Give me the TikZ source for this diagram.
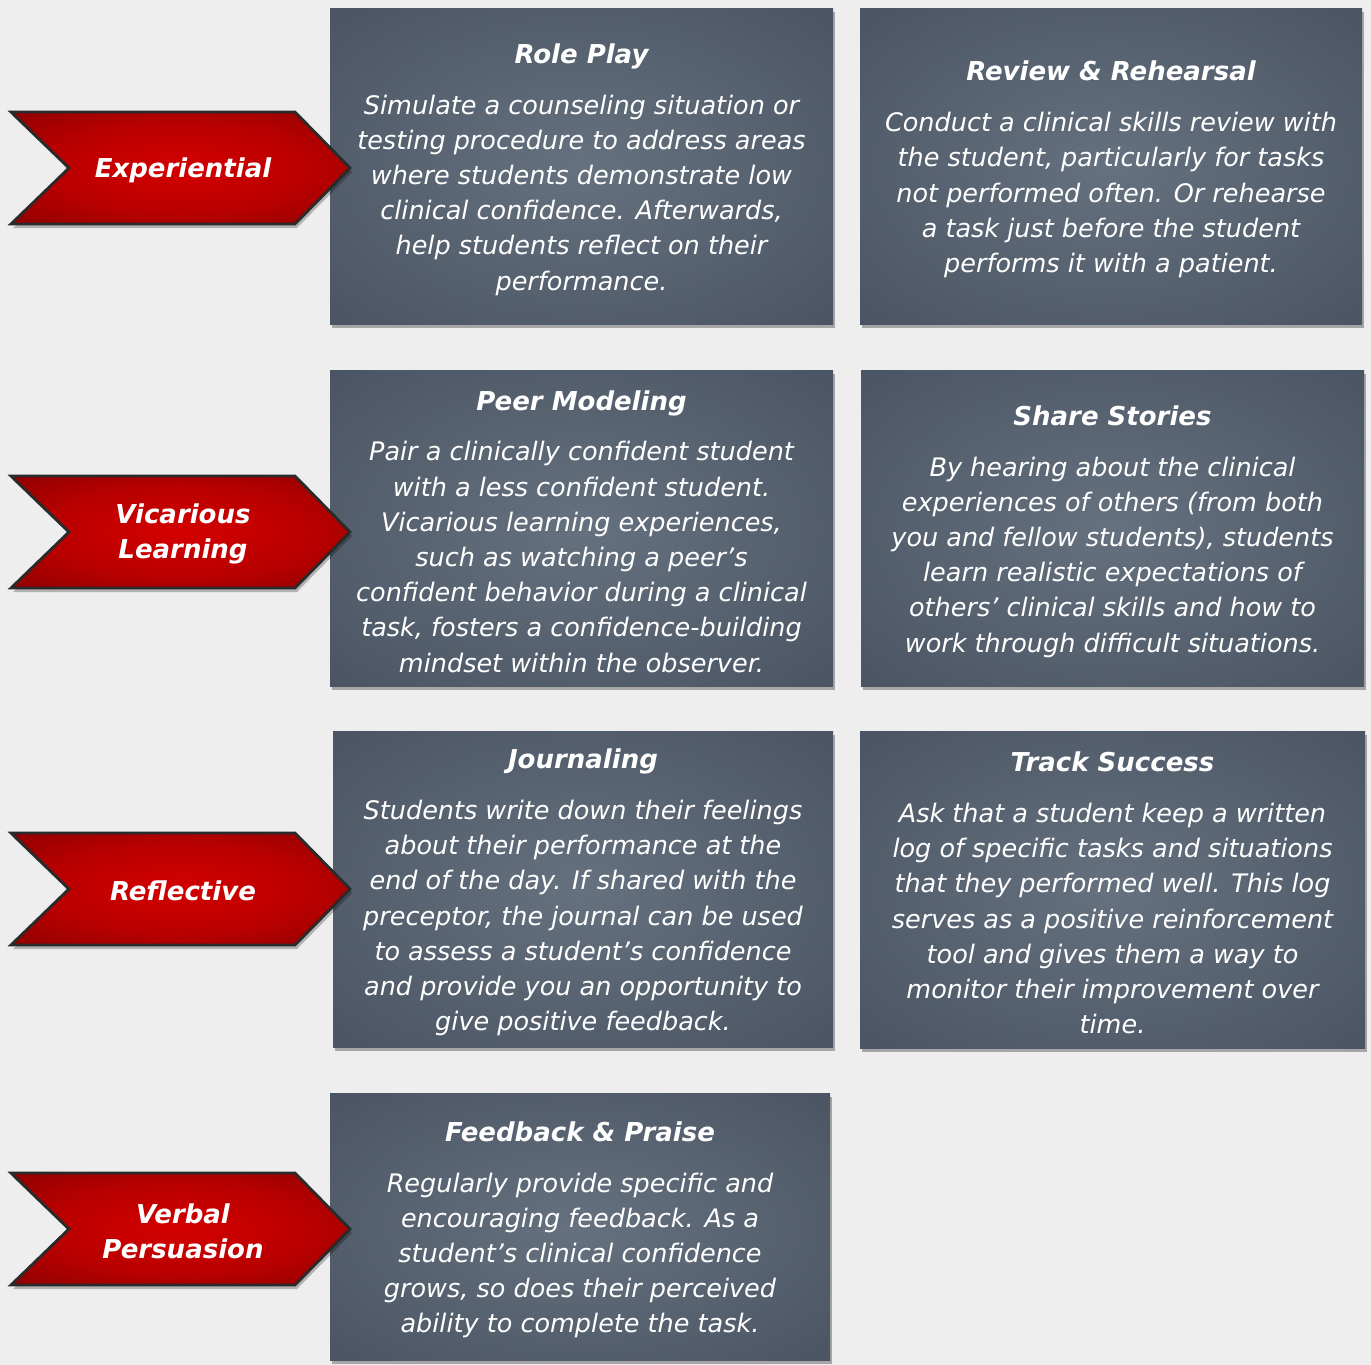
\documentclass[tikz,border=0pt]{standalone}
\usepackage{fontspec}
\setmainfont{DejaVu Sans}
\usetikzlibrary{shadows}
\definecolor{bg}{HTML}{EEEEEE}
\definecolor{boxin}{HTML}{66717F}
\definecolor{boxout}{HTML}{3D4755}
\definecolor{redin}{HTML}{D40000}
\definecolor{redmid}{HTML}{B80000}
\definecolor{redout}{HTML}{7E0000}
\definecolor{edgec}{HTML}{2A2A2A}
\pgfdeclareradialshading{cardshade}{\pgfpoint{0bp}{0bp}}{color(0bp)=(boxin); color(52bp)=(boxout); color(72bp)=(boxout)}
\pgfdeclareradialshading{chevshade}{\pgfpoint{0bp}{0bp}}{color(0bp)=(redin); color(20bp)=(redmid); color(42bp)=(redout); color(72bp)=(redout)}
\newcommand\cardbody{\fontsize{25.5}{35.2}\selectfont\itshape}
\newcommand\cardttl[1]{{\fontsize{26}{35.2}\selectfont\bfseries\itshape #1}\\[15.5pt]}
\tikzset{
  card/.style={rectangle, inner sep=0pt, shading=cardshade, draw=none,
    drop shadow={shadow xshift=1.5pt, shadow yshift=-4pt, opacity=0.3, fill=black}},
  cardtext/.style={inner sep=0pt, text=white, align=center, font=\cardbody},
  chev/.style={draw=edgec, line width=2.8pt, line join=miter, shading=chevshade,
    drop shadow={shadow xshift=2pt, shadow yshift=-4pt, opacity=0.25, fill=black}},
  chevlabel/.style={text=white, align=center, inner sep=0pt,
    font=\fontsize{26}{35}\selectfont\bfseries\itshape}
}
\begin{document}
\begin{tikzpicture}[x=1pt,y=-1pt]
\fill[bg] (0,0) rectangle (1371,1365);
\useasboundingbox (0,0) rectangle (1371,1365);

\node[card, minimum width=503pt, minimum height=316pt] (b1) at (581.5,166) {};
\node[cardtext] (t1) at ([yshift=-3.5pt]b1.center) {\cardttl{Role Play}
Simulate a counseling situation or\\
testing procedure to address areas\\
where students demonstrate low\\
clinical confidence. Afterwards,\\
help students reflect on their\\
performance.};

\node[card, minimum width=502pt, minimum height=316pt] (b2) at (1111,166) {};
\node[cardtext] (t2) at ([yshift=-3.5pt]b2.center) {\cardttl{Review \& Rehearsal}
Conduct a clinical skills review with\\
the student, particularly for tasks\\
not performed often. Or rehearse\\
a task just before the student\\
performs it with a patient.};

\node[card, minimum width=503pt, minimum height=316pt] (b3) at (581.5,528) {};
\node[cardtext] (t3) at ([yshift=-3.5pt]b3.center) {\cardttl{Peer Modeling}
Pair a clinically confident student\\
with a less confident student.\\
Vicarious learning experiences,\\
such as watching a peer’s\\
confident behavior during a clinical\\
task, fosters a confidence-building\\
mindset within the observer.};

\node[card, minimum width=503pt, minimum height=316pt] (b4) at (1112.5,528) {};
\node[cardtext] (t4) at ([yshift=-3.5pt]b4.center) {\cardttl{Share Stories}
By hearing about the clinical\\
experiences of others (from both\\
you and fellow students), students\\
learn realistic expectations of\\
others’ clinical skills and how to\\
work through difficult situations.};

\node[card, minimum width=500pt, minimum height=316pt] (b5) at (583,889) {};
\node[cardtext] (t5) at ([yshift=-3.5pt]b5.center) {\cardttl{Journaling}
Students write down their feelings\\
about their performance at the\\
end of the day. If shared with the\\
preceptor, the journal can be used\\
to assess a student’s confidence\\
and provide you an opportunity to\\
give positive feedback.};

\node[card, minimum width=505pt, minimum height=317pt] (b6) at (1112.5,889.5) {};
\node[cardtext] (t6) at ([yshift=-3.5pt]b6.center) {\cardttl{Track Success}
Ask that a student keep a written\\
log of specific tasks and situations\\
that they performed well. This log\\
serves as a positive reinforcement\\
tool and gives them a way to\\
monitor their improvement over\\
time.};

\node[card, minimum width=500pt, minimum height=267pt] (b7) at (580,1226.5) {};
\node[cardtext] (t7) at ([yshift=-3.5pt]b7.center) {\cardttl{Feedback \& Praise}
Regularly provide specific and\\
encouraging feedback. As a\\
student’s clinical confidence\\
grows, so does their perceived\\
ability to complete the task.};

\foreach \cy/\nm/\lbl in {168/c1/Experiential, 532/c2/{Vicarious\\Learning}, 889/c3/Reflective, 1229/c4/{Verbal\\Persuasion}}{
  \draw[chev] (11,\cy-56) -- (295,\cy-56) -- (350,\cy) -- (295,\cy+56) -- (11,\cy+56) -- (69,\cy) -- cycle;
  \node[chevlabel] (\nm) at (183,\cy+2) {\lbl};
}
\end{tikzpicture}
\end{document}
